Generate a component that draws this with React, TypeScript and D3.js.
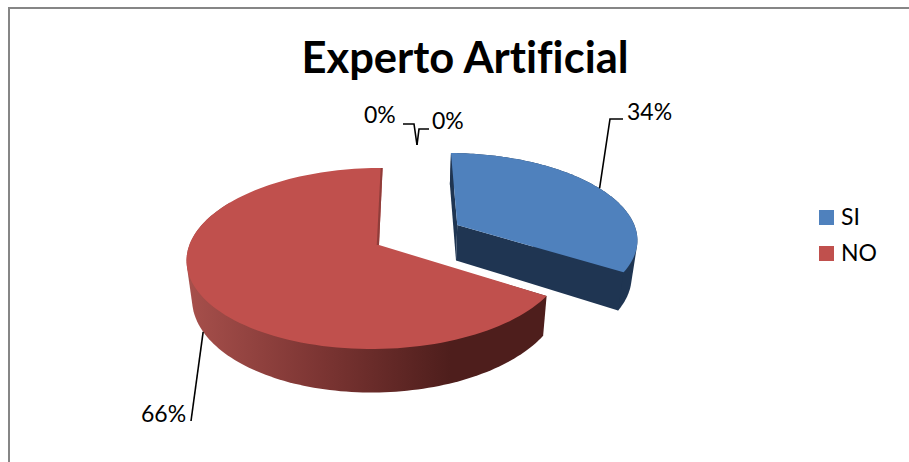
import React from "react";
import * as d3 from "d3";

const title = "Experto Artificial";
const categories = ["SI", "NO", "C3", "C4"];
const values = [34, 66, 0, 0];
const legendItems = ["SI", "NO"];
const faceColors = ["#4f81bd", "#c0504d"];
const FONT = "Lato, 'Open Sans', sans-serif";

// perspective projection of the pie plane
const VX = 407, AY = 245, U0 = -28, A = 187, B = 88.5, K = 0.149, M = 0.012, DEPTH = 37, XSHRINK = 0.975;
const EXPLODE = 0.49;

function project(u: number, v: number, low = false): [number, number] {
  const d = 1 + K * v + M * u;
  const x = (U0 + A * u) / d;
  const y = AY - (B * v) / d;
  if (!low) return [VX + x, y];
  return [VX + x * XSHRINK, y + DEPTH / d];
}

type Slice = { start: number; end: number; du: number; dv: number };
const pie = d3.pie<number>().sort(null).value((d) => d);
const arcs = pie(values);
const slices: Slice[] = arcs.slice(0, 2).map((a, i) => {
  const mid = (a.startAngle + a.endAngle) / 2;
  const e = i === 0 ? EXPLODE : 0;
  return { start: a.startAngle, end: a.endAngle, du: e * Math.sin(mid), dv: e * Math.cos(mid) };
});

const line = d3.line<[number, number]>().x((d) => d[0]).y((d) => d[1]);

function rim(s: Slice, low = false, a0 = s.start, a1 = s.end): [number, number][] {
  return d3.range(0, 121).map((i) => {
    const t = a0 + ((a1 - a0) * i) / 120;
    return project(s.du + Math.sin(t), s.dv + Math.cos(t), low);
  });
}
const facePath = (s: Slice) => line([project(s.du, s.dv), ...rim(s)])! + "Z";
// silhouette of the outer wall: hull of the upper and lower rims
const wallPath = (s: Slice, a0: number, a1: number) =>
  line(d3.polygonHull([...rim(s, false, a0, a1), ...rim(s, true, a0, a1)])!)! + "Z";
const cutPath = (s: Slice, a: number) =>
  line([
    project(s.du, s.dv),
    project(s.du + Math.sin(a), s.dv + Math.cos(a)),
    project(s.du + Math.sin(a), s.dv + Math.cos(a), true),
    project(s.du, s.dv, true),
  ])! + "Z";
const sliverPath = (s: Slice, w: number) =>
  line([
    project(s.du, s.dv + 1),
    project(s.du, s.dv),
    project(s.du + w, s.dv),
    project(s.du + w, s.dv + 1),
  ])! + "Z";

const [blue, red] = slices;
const midBlue = (blue.start + blue.end) / 2;
const midRed = (red.start + red.end) / 2;
const blueAnchor = project(blue.du + Math.sin(midBlue), blue.dv + Math.cos(midBlue));
const redAnchor = project(Math.sin(midRed), Math.cos(midRed), true);

const legendY = d3.scalePoint<string>().domain(legendItems).range([218, 254]);

export default function App() {
  return (
    <svg width={909} height={462} style={{ position: "absolute", left: 0, top: 0, background: "#fff" }}>
      <defs>
        <linearGradient id="redWall" gradientUnits="userSpaceOnUse" x1={190} x2={450} y1={0} y2={0}>
          <stop offset="0" stopColor="#a64f4b" />
          <stop offset="0.5" stopColor="#7c3533" />
          <stop offset="1" stopColor="#4e1e1c" />
        </linearGradient>
      </defs>
      <path d="M9 463V8H909" fill="none" stroke="#868686" strokeWidth={2} />
      <text x={465} y={73} textAnchor="middle" fontFamily={FONT} fontWeight={700} fontSize={43.5} fill="#000" style={{ fontVariantLigatures: "none" }}>{title}</text>

      {/* NO slice */}
      <path d={wallPath(red, red.start, red.start + (red.end - red.start) * 0.75)} fill="url(#redWall)" />
      <path d={facePath(red)} fill={faceColors[1]} />
      <path d={sliverPath(red, -0.012)} fill="#8f3d3a" />

      {/* SI slice */}
      <path d={wallPath(blue, blue.start, blue.end)} fill="#1f3552" />
      <path d={cutPath(blue, blue.end)} fill="#1f3552" />
      <path d={cutPath(blue, blue.start)} fill="#1f3552" />
      <path d={facePath(blue)} fill={faceColors[0]} />

      {/* leader lines */}
      <g fill="none" stroke="#000" strokeWidth={1.6}>
        <path d={line([blueAnchor, [610, 119], [623, 119]])!} />
        <path d={line([redAnchor, [191, 421]])!} />
        <path d="M403 124H414L417 145" />
        <path d="M429 129H419L417 145" />
      </g>
      <g fontFamily={FONT} fontSize={23} fill="#000">
        <text x={627} y={120}>{values[0]}%</text>
        <text x={141} y={422}>{values[1]}%</text>
        <text x={364} y={123}>{values[2]}%</text>
        <text x={432} y={129}>{values[3]}%</text>
      </g>
      {legendItems.map((c, i) => (
        <g key={c}>
          <rect x={819} y={legendY(c)! - 8} width={15} height={15} fill={faceColors[i]} />
          <text x={841} y={legendY(c)! + 7} fontFamily={FONT} fontSize={23} fill="#000">{c}</text>
        </g>
      ))}
    </svg>
  );
}
